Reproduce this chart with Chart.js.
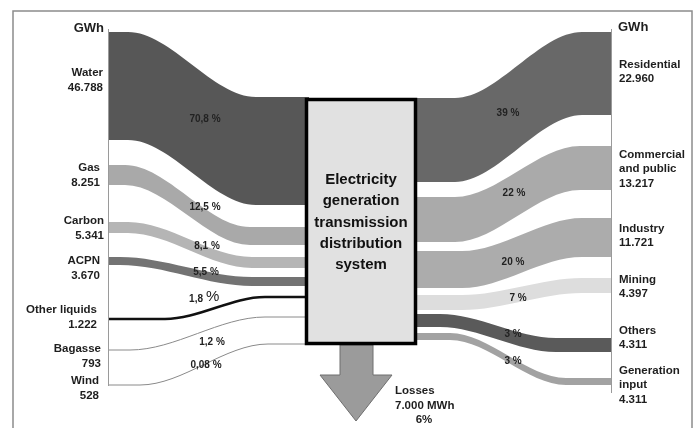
<!DOCTYPE html>
<html>
<head>
<meta charset="utf-8">
<script src="https://cdn.jsdelivr.net/npm/chart.js@4/dist/chart.umd.min.js"></script>
<style>
  body { margin: 0; background: #fff; }
  canvas { display: block; }
</style>
</head>
<body>
<canvas id="myChart" width="696" height="428"></canvas>
<script>
// fuentes (lado izquierdo)
const fuentes = ['Water', 'Gas', 'Carbon', 'ACPN', 'Other liquids', 'Bagasse', 'Wind'];
const fuentesGWh = ['46.788', '8.251', '5.341', '3.670', '1.222', '793', '528'];
const fuentesPct = ['70,8 %', '12,5 %', '8,1 %', '5,5 %', '1,8 %', '1,2 %', '0,08 %'];
// bordes de cada banda (arriba/abajo en el eje, arriba/abajo en la caja)
const fuentesArriba = [32, 165, 222, 257, 319, 350, 385];
const fuentesAbajo = [140, 185, 233, 265, 319, 350, 385];
const fuentesArribaCaja = [97, 227, 257, 277, 297, 317, 344];
const fuentesAbajoCaja = [205, 245, 268, 286, 297, 317, 344];

// consumos (lado derecho)
const usos = [['Residential'], ['Commercial', 'and public'], ['Industry'], ['Mining'], ['Others'], ['Generation', 'input']];
const usosGWh = ['22.960', '13.217', '11.721', '4.397', '4.311', '4.311'];
const usosPct = ['39 %', '22 %', '20 %', '7 %', '3 %', '3 %'];
const usosArribaCaja = [98, 197, 251, 295, 314, 333];
const usosAbajoCaja = [182, 242, 288, 310, 327, 340];
const usosArriba = [32, 146, 218, 278, 338, 378];
const usosAbajo = [115, 190, 257, 293, 352, 385];

const perdidas = ['Losses', '7.000 MWh', '6%'];
const cajaTexto = ['Electricity', 'generation', 'transmission', 'distribution', 'system'];

// estilos
const colFuentes = ['#575757', '#a9a9a9', '#b5b5b5', '#737373', '#111111', '#8a8a8a', '#8a8a8a'];
const lineaFuentes = [0, 0, 0, 0, 2.5, 1, 1];
const curvaFuentes = [[128, 256], [125, 250], [128, 252], [120, 252], [165, 265], [130, 265], [140, 268]];
const colUsos = ['#686868', '#aaaaaa', '#acacac', '#dddddd', '#5a5a5a', '#a2a2a2'];
const curvaUsos = [[455, 582], [455, 580], [462, 582], [462, 582], [440, 556], [450, 566]];

const ejeIzq = 108, ejeDer = 611, cajaIzq = 305, cajaDer = 417, cajaArr = 98, cajaAba = 345;

function borde(x0, xs, xe, x1, y0, y1) {
    return [{ x: x0, y: y0 }, { x: xs, y: y0 }, { x: xe, y: y1 }, { x: x1, y: y1 }];
}

const datasets = [];
fuentes.forEach((f, i) => {
    const [xs, xe] = curvaFuentes[i];
    if (lineaFuentes[i] > 0) {
        datasets.push({
            data: borde(ejeIzq, xs, xe, cajaIzq, fuentesArriba[i], fuentesArribaCaja[i]),
            borderColor: colFuentes[i], borderWidth: lineaFuentes[i], fill: false
        });
        return;
    }
    datasets.push({
        data: borde(ejeIzq, xs, xe, cajaIzq + 4, fuentesArriba[i], fuentesArribaCaja[i]),
        borderColor: 'rgba(0,0,0,0)', borderWidth: 0, fill: false
    });
    datasets.push({
        data: borde(ejeIzq, xs, xe, cajaIzq + 4, fuentesAbajo[i], fuentesAbajoCaja[i]),
        borderColor: 'rgba(0,0,0,0)', borderWidth: 0, fill: '-1', backgroundColor: colFuentes[i]
    });
});
usos.forEach((u, i) => {
    const [xs, xe] = curvaUsos[i];
    datasets.push({
        data: borde(cajaDer - 4, xs, xe, ejeDer, usosArribaCaja[i], usosArriba[i]),
        borderColor: 'rgba(0,0,0,0)', borderWidth: 0, fill: false
    });
    datasets.push({
        data: borde(cajaDer - 4, xs, xe, ejeDer, usosAbajoCaja[i], usosAbajo[i]),
        borderColor: 'rgba(0,0,0,0)', borderWidth: 0, fill: '-1', backgroundColor: colUsos[i]
    });
});

const dibujoExtra = {
    id: 'dibujoExtra',
    afterDatasetsDraw(chart) {
        const ctx = chart.ctx;
        const X = v => chart.scales.x.getPixelForValue(v);
        const Y = v => chart.scales.y.getPixelForValue(v);
        ctx.save();
        // marco
        ctx.strokeStyle = '#8c8c8c';
        ctx.lineWidth = 1.5;
        ctx.strokeRect(X(13), Y(11), X(692) - X(13), Y(440) - Y(11));
        // ejes
        ctx.strokeStyle = '#9a9a9a';
        ctx.lineWidth = 1;
        ctx.beginPath();
        ctx.moveTo(X(ejeIzq) + 0.5, Y(29)); ctx.lineTo(X(ejeIzq) + 0.5, Y(386));
        ctx.moveTo(X(ejeDer) + 0.5, Y(29)); ctx.lineTo(X(ejeDer) + 0.5, Y(393));
        ctx.stroke();
        // flecha de perdidas
        ctx.fillStyle = '#9b9b9b';
        ctx.strokeStyle = '#6e6e6e';
        ctx.beginPath();
        ctx.moveTo(X(340), Y(cajaAba));
        ctx.lineTo(X(373), Y(cajaAba));
        ctx.lineTo(X(373), Y(375));
        ctx.lineTo(X(392), Y(375));
        ctx.lineTo(X(356), Y(421));
        ctx.lineTo(X(320), Y(375));
        ctx.lineTo(X(340), Y(375));
        ctx.closePath();
        ctx.fill();
        ctx.stroke();
        // caja
        ctx.fillStyle = '#e1e1e1';
        ctx.fillRect(X(cajaIzq), Y(cajaArr), X(cajaDer) - X(cajaIzq), Y(cajaAba) - Y(cajaArr));
        ctx.strokeStyle = '#000';
        ctx.lineWidth = 3.5;
        ctx.strokeRect(X(cajaIzq) + 1.5, Y(cajaArr) + 1.5, X(cajaDer) - X(cajaIzq) - 3, Y(cajaAba) - Y(cajaArr) - 3);
        ctx.fillStyle = '#111';
        ctx.font = 'bold 15px "Liberation Sans", Arial, sans-serif';
        ctx.textAlign = 'center';
        ctx.textBaseline = 'middle';
        cajaTexto.forEach((t, i) => ctx.fillText(t, X(361), Y(180 + i * 21.2)));

        // textos
        ctx.fillStyle = '#1e1e1e';
        ctx.font = 'bold 13px "Liberation Sans", Arial, sans-serif';
        ctx.textAlign = 'right';
        ctx.fillText('GWh', X(104), Y(28));
        ctx.textAlign = 'left';
        ctx.fillText('GWh', X(618), Y(27));

        const yFuentes = [73, 168, 221, 261, 310, 349, 381];
        const xFuentes = [103, 100, 104, 100, 97, 101, 99];
        ctx.font = 'bold 11.5px "Liberation Sans", Arial, sans-serif';
        ctx.textAlign = 'right';
        fuentes.forEach((f, i) => {
            ctx.fillText(f, X(xFuentes[i]), Y(yFuentes[i]));
            ctx.fillText(fuentesGWh[i], X(xFuentes[i]), Y(yFuentes[i] + 14.5));
        });

        const yUsos = [65, 155, 229, 280, 331, 371];
        ctx.textAlign = 'left';
        usos.forEach((u, i) => {
            const lineas = u.concat([usosGWh[i]]);
            lineas.forEach((t, k) => ctx.fillText(t, X(619), Y(yUsos[i] + k * 14.2)));
        });

        ctx.fillText(perdidas[0], X(395), Y(391));
        ctx.fillText(perdidas[1], X(395), Y(406));
        ctx.textAlign = 'center';
        ctx.fillText(perdidas[2], X(424), Y(420));

        // porcentajes
        const pctFuentes = [[205, 119], [205, 207], [207, 246], [206, 272], [203, 299], [212, 342], [206, 365]];
        const pctUsos = [[508, 113], [514, 193], [513, 262], [518, 298], [513, 334], [513, 361]];
        ctx.font = 'bold 10px "Liberation Sans", Arial, sans-serif';
        ctx.fillStyle = '#222';
        fuentesPct.forEach((p, i) => {
            if (i === 4) {
                ctx.textAlign = 'right';
                ctx.fillText('1,8', X(203), Y(299));
                ctx.textAlign = 'left';
                ctx.font = '15px "Liberation Sans", Arial, sans-serif';
                ctx.fillText('%', X(206), Y(297));
                ctx.font = 'bold 10px "Liberation Sans", Arial, sans-serif';
                ctx.textAlign = 'center';
                return;
            }
            ctx.fillText(p, X(pctFuentes[i][0]), Y(pctFuentes[i][1]));
        });
        usosPct.forEach((p, i) => ctx.fillText(p, X(pctUsos[i][0]), Y(pctUsos[i][1])));
        ctx.restore();
    }
};

new Chart(document.getElementById('myChart').getContext('2d'), {
    type: 'line',
    data: { datasets },
    options: {
        responsive: false,
        animation: false,
        devicePixelRatio: 1,
        layout: { padding: 0 },
        elements: {
            point: { radius: 0, hoverRadius: 0 },
            line: { cubicInterpolationMode: 'monotone' }
        },
        plugins: { legend: { display: false }, tooltip: { enabled: false } },
        scales: {
            x: { type: 'linear', min: 0, max: 696, display: false },
            y: { type: 'linear', min: 0, max: 428, reverse: true, display: false }
        }
    },
    plugins: [dibujoExtra]
});
</script>
</body>
</html>
